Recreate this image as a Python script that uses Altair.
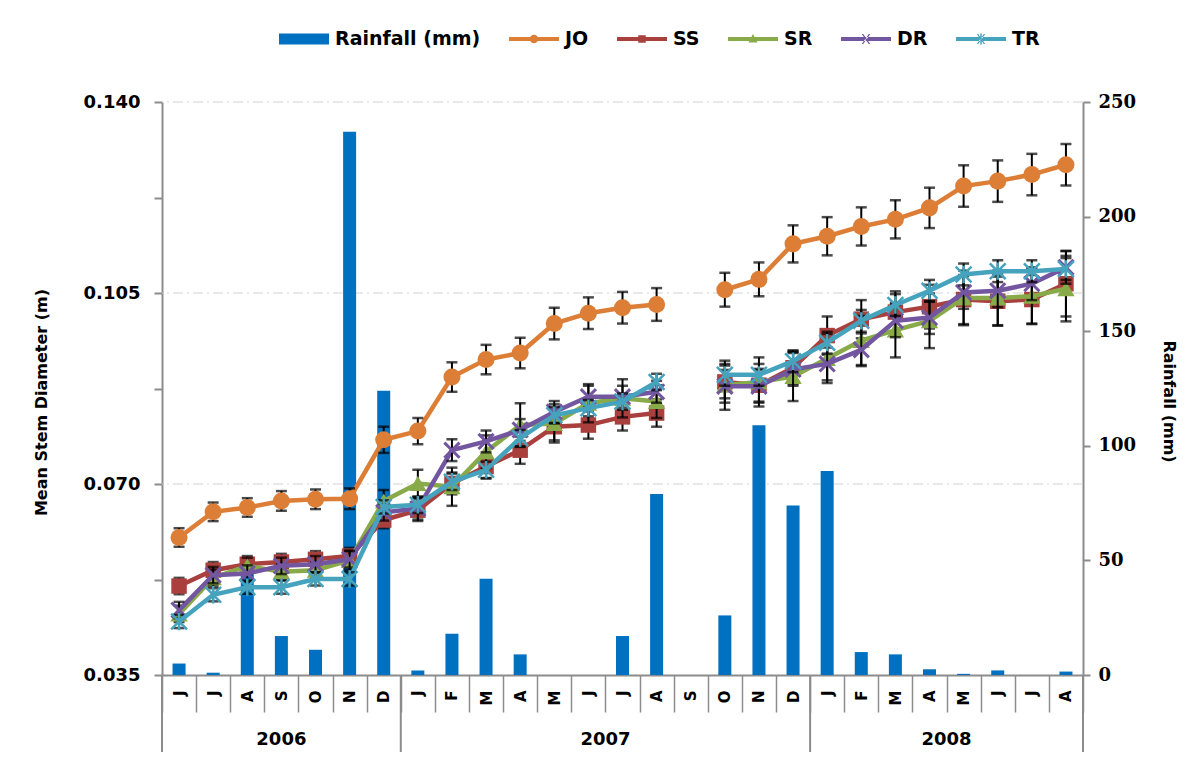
import altair as alt
import pandas as pd

# ---------------- data ----------------
months = ["J", "J", "A", "S", "O", "N", "D",
          "J", "F", "M", "A", "M", "J", "J", "A", "S", "O", "N", "D",
          "J", "F", "M", "A", "M", "J", "J", "A"]
years = ["2006"] * 7 + ["2007"] * 12 + ["2008"] * 8

rainfall = [5, 1, 48, 17, 11, 237, 124,
            2, 18, 42, 9, 0, 0, 17, 79, 0, 26, 109, 74,
            89, 10, 9, 2.5, 0.5, 2, 0, 1.5]

JO = [0.0602, 0.0649, 0.0657, 0.0669, 0.0672, 0.0673, 0.0781,
      0.0797, 0.0896, 0.0928, 0.0940, 0.0994, 0.1013, 0.1023, 0.1029, None, 0.1056, 0.1075, 0.1140,
      0.1154, 0.1172, 0.1185, 0.1206, 0.1246, 0.1255, 0.1267, 0.1285]
SS = [0.0513, 0.0542, 0.0553, 0.0557, 0.0562, 0.0568, 0.0634,
      0.0652, 0.0701, 0.0732, 0.0762, 0.0805, 0.0808, 0.0823, 0.0830, None, 0.0887, 0.0881, 0.0913,
      0.0972, 0.1002, 0.1015, 0.1025, 0.1038, 0.1035, 0.1038, 0.1067]
SR = [0.0462, 0.0528, 0.0550, 0.0539, 0.0542, 0.0560, 0.0669,
      0.0701, 0.0695, 0.0759, 0.0808, 0.0811, 0.0848, 0.0857, 0.0851, None, 0.0881, 0.0887, 0.0897,
      0.0930, 0.0963, 0.0982, 0.0999, 0.1041, 0.1041, 0.1044, 0.1058]
DR = [0.0469, 0.0533, 0.0536, 0.0550, 0.0553, 0.0562, 0.0648,
      0.0655, 0.0762, 0.0778, 0.0799, 0.0832, 0.0860, 0.0860, 0.0869, None, 0.0879, 0.0879, 0.0910,
      0.0920, 0.0946, 0.0999, 0.1005, 0.1051, 0.1054, 0.1067, 0.1097]
TR = [0.0448, 0.0497, 0.0511, 0.0511, 0.0526, 0.0526, 0.0658,
      0.0662, 0.0704, 0.0726, 0.0784, 0.0826, 0.0839, 0.0851, 0.0887, None, 0.0900, 0.0900, 0.0925,
      0.0959, 0.0999, 0.1028, 0.1054, 0.1084, 0.1090, 0.1090, 0.1094]

JO_err = [0.0017, 0.0017, 0.0017, 0.0018, 0.0018, 0.0019, 0.0024,
          0.0024, 0.0027, 0.0027, 0.0028, 0.0029, 0.0029, 0.0029, 0.0030, None, 0.0031, 0.0031, 0.0034,
          0.0035, 0.0035, 0.0035, 0.0037, 0.0038, 0.0038, 0.0038, 0.0038]
SS_err = [0.0015, 0.0015, 0.0015, 0.0015, 0.0015, 0.0015, 0.0015,
          0.0020, 0.0020, 0.0022, 0.0025, 0.0025, 0.0025, 0.0025, 0.0025, None, 0.0030, 0.0030, 0.0030,
          0.0035, 0.0035, 0.0038, 0.0040, 0.0045, 0.0045, 0.0045, 0.0060]
SR_err = [0.0015, 0.0015, 0.0015, 0.0015, 0.0015, 0.0018, 0.0020,
          0.0025, 0.0035, 0.0030, 0.0040, 0.0035, 0.0035, 0.0035, 0.0030, None, 0.0045, 0.0045, 0.0045,
          0.0045, 0.0045, 0.0050, 0.0050, 0.0050, 0.0050, 0.0050, 0.0060]
DR_err = [0.0015, 0.0015, 0.0015, 0.0015, 0.0015, 0.0015, 0.0015,
          0.0020, 0.0020, 0.0020, 0.0020, 0.0020, 0.0020, 0.0020, 0.0020, None, 0.0030, 0.0030, 0.0030,
          0.0030, 0.0030, 0.0030, 0.0030, 0.0030, 0.0030, 0.0030, 0.0030]
TR_err = [0.0012, 0.0012, 0.0012, 0.0012, 0.0012, 0.0012, 0.0012,
          0.0015, 0.0015, 0.0015, 0.0015, 0.0015, 0.0015, 0.0015, 0.0015, None, 0.0020, 0.0020, 0.0020,
          0.0020, 0.0020, 0.0020, 0.0020, 0.0020, 0.0020, 0.0020, 0.0020]

series_names = ["JO", "SS", "SR", "DR", "TR"]
series_values = [JO, SS, SR, DR, TR]
series_errors = [JO_err, SS_err, SR_err, DR_err, TR_err]
series_colors = ["#DD7E37", "#A9403E", "#88AA48", "#7356A0", "#46A3BE"]
rain_color = "#0070C0"

left_ticks = [0.035, 0.0525, 0.07, 0.0875, 0.105, 0.1225, 0.14]
grid_values = [0.07, 0.105, 0.14]
right_ticks = [0, 50, 100, 150, 200, 250]

legend_items = ["Rainfall (mm)", "JO", "SS", "SR", "DR", "TR"]

# ---------------- styling ----------------
W, H = 921, 573
AXIS_GRAY = "#8C8C8C"
FONT = "DejaVu Sans"

marker_shapes = {
    "JO": dict(shape="circle", size=290, filled=True, strokeWidth=0),
    "SS": dict(shape="square", size=240, filled=True, strokeWidth=0),
    "SR": dict(shape="triangle-up", size=300, filled=True, strokeWidth=0),
    "DR": dict(shape="M-1,-1L1,1M-1,1L1,-1", size=230, filled=False, strokeWidth=3),
    "TR": dict(shape="M-1,-1L1,1M-1,1L1,-1M0,-1.1L0,1.1", size=250, filled=False, strokeWidth=2.5),
}

LINE = "M-1,-0.08H1V0.08H-1Z"
legend_paths = [
    "M-1,-0.22H1V0.22H-1Z",
    LINE + "M0.17,0A0.17,0.17 0 1 1 -0.17,0A0.17,0.17 0 1 1 0.17,0Z",
    LINE + "M-0.15,-0.15H0.15V0.15H-0.15Z",
    LINE + "M0,-0.2L0.18,0.14L-0.18,0.14Z",
    LINE + "M-0.17,-0.2L-0.11,-0.2L0.17,0.2L0.11,0.2Z M0.17,-0.2L0.11,-0.2L-0.17,0.2L-0.11,0.2Z",
    LINE + "M-0.17,-0.2L-0.11,-0.2L0.17,0.2L0.11,0.2Z M0.17,-0.2L0.11,-0.2L-0.17,0.2L-0.11,0.2Z M-0.03,-0.22H0.03V0.22H-0.03Z",
]
legend_colors = [rain_color] + series_colors

# ---------------- tables ----------------
keys = [f"{i:02d}|{m}" for i, m in enumerate(months)]
rain_df = pd.DataFrame({"key": keys, "rain": rainfall})

rows = []
for name, vals, errs in zip(series_names, series_values, series_errors):
    seg = 0
    for k, v, e in zip(keys, vals, errs):
        if v is None:
            seg += 1
            continue
        rows.append({"key": k, "series": name, "d": v, "lo": v - e, "hi": v + e, "seg": seg})
long_df = pd.DataFrame(rows)

# year blocks
year_names, year_start, year_end = [], [], []
for i, y in enumerate(years):
    if not year_names or year_names[-1] != y:
        year_names.append(y)
        year_start.append(i)
        year_end.append(i + 1)
    else:
        year_end[-1] = i + 1
year_df = pd.DataFrame({"year": year_names,
                        "center": [(a + b) / 2 for a, b in zip(year_start, year_end)]})
sep_df = pd.DataFrame({"pos": year_start + [year_end[-1]]})
grid_df = pd.DataFrame({"g": grid_values})
leg_df = pd.DataFrame({"item": legend_items})

# ---------------- scales / axes ----------------
x_scale = alt.Scale(type="band", domain=keys, paddingInner=0, paddingOuter=0)
xq_scale = alt.Scale(domain=[0, len(months)], nice=False, zero=False)
yl_scale = alt.Scale(domain=[0.035, 0.14], nice=False, zero=False)
yr_scale = alt.Scale(domain=[0, 250], nice=False)

month_axis = alt.Axis(
    title=None, labelExpr="split(datum.label, '|')[1]", labelAngle=-90,
    tickBand="extent", tickExtra=True, tickSize=37, tickColor=AXIS_GRAY, tickWidth=1.5,
    labelPadding=-22, labelFont=FONT, labelFontSize=15, labelFontWeight="bold",
    labelColor="black", domainColor=AXIS_GRAY, domainWidth=2, grid=False,
)
left_axis = alt.Axis(
    orient="left", values=left_ticks, title="Mean Stem Diameter (m)",
    labelExpr="(round(datum.value * 10000) % 350 == 0) ? format(datum.value, '.3f') : ''",
    labelFont=FONT, labelFontSize=18, labelFontWeight="bold", labelColor="black",
    tickSize=8, tickColor=AXIS_GRAY, tickWidth=2, labelPadding=14,
    domainColor=AXIS_GRAY, domainWidth=2, grid=False,
    titleFont=FONT, titleFontSize=16, titleFontWeight="bold", titleColor="black",
    titleX=-113, titleY=300,
)
right_axis = alt.Axis(
    orient="right", values=right_ticks, title="Rainfall (mm)", format="d",
    labelFont="DejaVu Serif", labelFontSize=18, labelFontWeight="bold", labelColor="black",
    tickSize=7, tickColor=AXIS_GRAY, tickWidth=2, labelPadding=8,
    domainColor=AXIS_GRAY, domainWidth=2, grid=False,
    titleFont=FONT, titleFontSize=16, titleFontWeight="bold", titleColor="black",
    titleAngle=90, titleX=77, titleY=299,
)

# ---------------- layers ----------------
layers = []

layers.append(
    alt.Chart(grid_df).mark_rule(color="#D4D4D4", strokeWidth=1.2, strokeDash=[10, 4, 2, 4])
    .encode(y=alt.Y("g:Q", scale=yl_scale, axis=None))
)

layers.append(
    alt.Chart(rain_df).mark_bar(size=13, color=rain_color)
    .encode(x=alt.X("key:O", scale=x_scale, axis=month_axis),
            y=alt.Y("rain:Q", scale=yr_scale, axis=right_axis))
)

for idx, (name, color) in enumerate(zip(series_names, series_colors)):
    base = alt.Chart(long_df).transform_filter(alt.datum.series == name)
    xenc = alt.X("key:O", scale=x_scale, axis=None)
    yaxis = left_axis if idx == 0 else None
    layers.append(
        base.mark_line(color=color, strokeWidth=4.5)
        .encode(x=xenc, y=alt.Y("d:Q", scale=yl_scale, axis=yaxis), detail="seg:N")
    )
    layers.append(
        base.mark_rule(color="black", strokeWidth=2)
        .encode(x=xenc, y=alt.Y("lo:Q", scale=yl_scale, axis=None), y2="hi:Q")
    )
    layers.append(
        base.mark_tick(color="black", thickness=2.5, size=11)
        .encode(x=xenc, y=alt.Y("lo:Q", scale=yl_scale, axis=None))
    )
    layers.append(
        base.mark_tick(color="black", thickness=2.5, size=11)
        .encode(x=xenc, y=alt.Y("hi:Q", scale=yl_scale, axis=None))
    )
    m = marker_shapes[name]
    layers.append(
        base.mark_point(shape=m["shape"], size=m["size"], filled=m["filled"],
                        strokeWidth=m["strokeWidth"], color=color, opacity=1)
        .encode(x=xenc, y=alt.Y("d:Q", scale=yl_scale, axis=None))
    )

# category-axis decorations: year separators and year labels
layers.append(
    alt.Chart(sep_df).mark_rule(color=AXIS_GRAY, strokeWidth=2)
    .encode(x=alt.X("pos:Q", scale=xq_scale, axis=None),
            y=alt.value(H), y2=alt.value(H + 77))
)
layers.append(
    alt.Chart(year_df).mark_text(font=FONT, fontSize=18, fontWeight="bold", color="black",
                                 align="center", baseline="middle")
    .encode(x=alt.X("center:Q", scale=xq_scale, axis=None),
            y=alt.value(H + 65), text="year:N")
)

# legend
leg = alt.Legend(orient="none", legendX=117, legendY=-88, direction="horizontal", title=None,
                 symbolSize=2500, symbolStrokeWidth=0, symbolOpacity=1,
                 labelFont=FONT, labelFontWeight="bold", labelFontSize=19, labelColor="black",
                 labelOffset=6, columnPadding=28, labelLimit=400)
layers.append(
    alt.Chart(leg_df).transform_filter("datum.item == 'none'")
    .mark_point(filled=True, opacity=1)
    .encode(color=alt.Color("item:N", scale=alt.Scale(domain=legend_items, range=legend_colors), legend=leg),
            shape=alt.Shape("item:N", scale=alt.Scale(domain=legend_items, range=legend_paths), legend=leg))
)

chart = (
    alt.layer(*layers)
    .resolve_scale(x="independent", y="independent")
    .properties(width=W, height=H,
                padding={"left": 154, "top": 94, "right": 105, "bottom": 86},
                autosize=alt.AutoSizeParams(type="none"))
    .configure_view(stroke=None)
)

chart.save("out.html", embed_options={"renderer": "svg", "actions": False})
